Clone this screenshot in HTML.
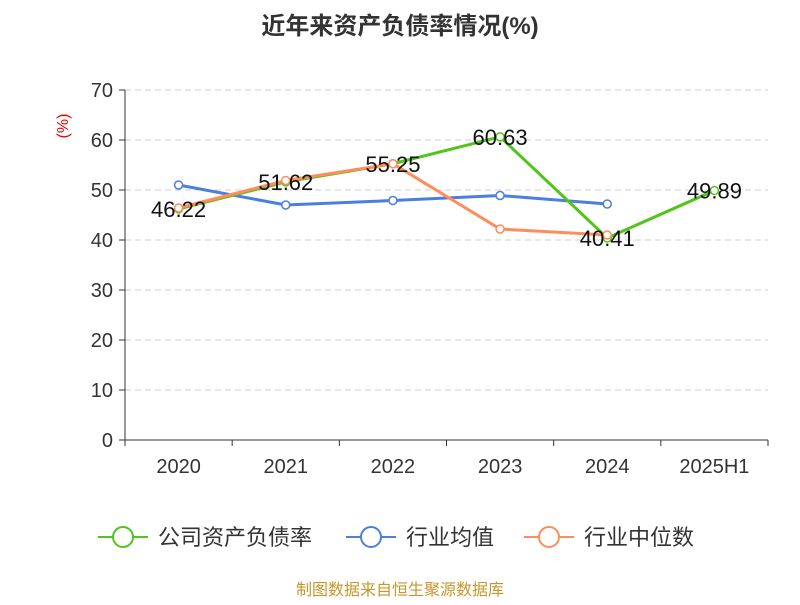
<!DOCTYPE html>
<html><head><meta charset="utf-8"><style>
body{margin:0;background:#fff;font-family:"Liberation Sans","Noto Sans CJK SC",sans-serif}
svg text{font-family:"Liberation Sans","Noto Sans CJK SC",sans-serif}
</style></head><body>
<svg id="chart" width="800" height="600" xmlns="http://www.w3.org/2000/svg">
<text x="400" y="34" text-anchor="middle" font-size="24" font-weight="bold" fill="#333">近年来资产负债率情况(%)</text>
<text transform="translate(68,126) rotate(-90)" text-anchor="middle" font-size="16" fill="#e00">(%)</text>
<g id="grid"></g><g id="axes"></g><g id="series"></g>
<g>
<g><line x1="98" y1="537" x2="148" y2="537" stroke="#52c41a" stroke-width="2"/><circle cx="123" cy="537" r="10" fill="#fff" stroke="#52c41a" stroke-width="2"/><text x="158" y="545" font-size="22" fill="#333">公司资产负债率</text></g>
<g><line x1="346" y1="537" x2="396" y2="537" stroke="#4a7fe0" stroke-width="2"/><circle cx="371" cy="537" r="10" fill="#fff" stroke="#4a7fe0" stroke-width="2"/><text x="406" y="545" font-size="22" fill="#333">行业均值</text></g>
<g><line x1="524" y1="537" x2="574" y2="537" stroke="#ff8c5a" stroke-width="2"/><circle cx="549" cy="537" r="10" fill="#fff" stroke="#ff8c5a" stroke-width="2"/><text x="584" y="545" font-size="22" fill="#333">行业中位数</text></g>
</g>
<text x="400" y="595" text-anchor="middle" font-size="16" fill="#c8962a">制图数据来自恒生聚源数据库</text>
</svg>
<script>
const categories=["2020","2021","2022","2023","2024","2025H1"];
const companyValues=[46.22,51.62,55.25,60.63,40.41,49.89];
const industryAvg=[51.0,47.0,47.9,48.9,47.2];
const industryMedian=[46.4,51.9,55.25,42.2,41.0];
const yTicks=[0,10,20,30,40,50,60,70];
const NS="http://www.w3.org/2000/svg";
const x0=125,x1=768,y0=440,y1=90,yMax=70;
const band=(x1-x0)/categories.length;
const xs=i=>x0+band*(i+0.5);
const ys=v=>y0-(v/yMax)*(y0-y1);
function mk(tag,attrs,parent){const e=document.createElementNS(NS,tag);for(const k in attrs)e.setAttribute(k,attrs[k]);parent.appendChild(e);return e;}
const grid=document.getElementById('grid'),axes=document.getElementById('axes'),ser=document.getElementById('series');
yTicks.forEach(t=>{
 const y=ys(t);
 if(t>0){const g=mk('line',{x1:x0,x2:x1,y1:y,y2:y,stroke:'#ccc','stroke-dasharray':'6,4'},grid);
 
 }
 const tk=mk('line',{x1:x0-6,x2:x0,y1:y,y2:y,stroke:'#333'},axes);
 
 
 const tl=mk('text',{x:x0-12,y:y+7,'text-anchor':'end','font-size':20,fill:'#333'},axes);tl.textContent=t;
 
 
});
const ya=mk('line',{x1:x0,x2:x0,y1:y1,y2:y0,stroke:'#333'},axes);


const xa=mk('line',{x1:x0,x2:x1,y1:y0,y2:y0,stroke:'#333'},axes);


for(let i=0;i<=categories.length;i++){const t=mk('line',{x1:x0+band*i,x2:x0+band*i,y1:y0,y2:y0+6,stroke:'#333'},axes);
 
 }
categories.forEach((c,i)=>{const t=mk('text',{x:xs(i),y:y0+33,'text-anchor':'middle','font-size':20,fill:'#333'},axes);t.textContent=c;
 
 });
function line(vals,color,name){
 const g=mk('g',{},ser);
 
 
 const p=mk('polyline',{points:vals.map((v,i)=>xs(i)+','+ys(v)).join(' '),fill:'none',stroke:color,'stroke-width':3},g);
 
 
 vals.forEach((v,i)=>{const c=mk('circle',{cx:xs(i),cy:ys(v),r:4,fill:'#fff',stroke:color,'stroke-width':1.5},g);
 
 });
}
line(industryAvg,'#4a7fe0','industry-avg-series');
line(companyValues,'#52c41a','company-series');
line(industryMedian,'#ff8c5a','industry-median-series');
companyValues.forEach((v,i)=>{const t=mk('text',{x:xs(i),y:ys(v)+(i===0||i===4?7:-2)+ (i===0||i===4?0:0),'text-anchor':'middle','font-size':22,fill:'#111'},ser);
 t.setAttribute('y',(i===0||i===4)?ys(v)+8:ys(v)+8);
 t.textContent=v.toFixed(2);
 
 });
</script>
</body></html>
